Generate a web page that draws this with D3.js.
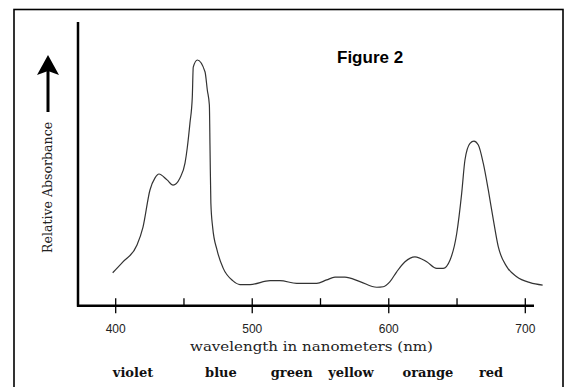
<!DOCTYPE html>
<html>
<head>
    <meta charset="UTF-8">
    <title>Figure 2</title>
    <style>
        body { margin: 0; background: #fff; }
    </style>
</head>
<body>
<div id="chart"></div>
<script src="https://cdn.jsdelivr.net/npm/d3@7"></script>
<script>
    // wavelength (nm) and relative absorbance
    var wavelength = [397.8, 405.3, 415.6, 420.0, 425.1, 428.8, 431.7, 437.6, 442.0, 447.1,
        450.8, 452.4, 454.4, 456.1, 456.8, 459.8, 465.4, 467.1, 468.6, 469.1,
        469.7, 471.0, 474.2, 478.6, 485.9, 491.0, 498.4, 513.1, 520.3, 532.6,
        547.2, 554.5, 560.6, 567.9, 578.9, 591.2, 596.0, 600.9, 605.8, 611.9,
        619.2, 627.8, 635.1, 639.9, 644.9, 649.8, 653.4, 655.8, 659.5, 662.4,
        665.6, 669.2, 672.9, 676.6, 680.2, 686.4, 693.7, 703.5, 712.7];
    var absorbance = [0.134, 0.178, 0.247, 0.320, 0.471, 0.520, 0.536, 0.512, 0.491, 0.520,
        0.581, 0.642, 0.744, 0.849, 0.971, 1.000, 0.952, 0.878, 0.817, 0.634,
        0.418, 0.320, 0.227, 0.154, 0.101, 0.086, 0.086, 0.102, 0.102, 0.091,
        0.091, 0.105, 0.116, 0.116, 0.098, 0.075, 0.077, 0.098, 0.138, 0.179,
        0.199, 0.179, 0.152, 0.152, 0.186, 0.295, 0.457, 0.593, 0.661, 0.670,
        0.654, 0.580, 0.471, 0.349, 0.240, 0.159, 0.118, 0.094, 0.084];

    var majorTicks = [400, 500, 600, 700];
    var minorTicks = [450, 550, 650];

    var colorNames = ["violet", "blue", "green", "yellow", "orange", "red"];
    var colorCenters = [412.7, 477.1, 528.9, 572.3, 628.7, 674.9];

    var width = 569, height = 387;
    var svg = d3.select("#chart").append("svg")
        .attr("width", width)
        .attr("height", height);

    // outer frame
    svg.append("rect")
        .attr("x", 14).attr("y", 9.5)
        .attr("width", 549).attr("height", 400)
        .attr("fill", "none")
        .attr("stroke", "#000")
        .attr("stroke-width", 1.6);

    var x = d3.scaleLinear().domain([400, 700]).range([115.7, 525.3]);
    var y = d3.scaleLinear().domain([0, 1]).range([305.7, 60]);
    var x0 = 78, x1 = 534, yTop = 22;

    // axes lines
    svg.append("line")
        .attr("x1", x0).attr("x2", x0)
        .attr("y1", yTop).attr("y2", y(0) + 1)
        .attr("stroke", "#000").attr("stroke-width", 2.5);
    svg.append("line")
        .attr("x1", x0 - 1).attr("x2", x1)
        .attr("y1", y(0)).attr("y2", y(0))
        .attr("stroke", "#000").attr("stroke-width", 2.5);

    // ticks
    svg.selectAll(".major")
        .data(majorTicks)
        .join("line")
        .attr("class", "major")
        .attr("x1", function (d) { return x(d); })
        .attr("x2", function (d) { return x(d); })
        .attr("y1", y(0) - 7.5).attr("y2", y(0) + 7.5)
        .attr("stroke", "#000").attr("stroke-width", 1.3);
    svg.selectAll(".minor")
        .data(minorTicks)
        .join("line")
        .attr("class", "minor")
        .attr("x1", function (d) { return x(d); })
        .attr("x2", function (d) { return x(d); })
        .attr("y1", y(0) - 7.5).attr("y2", y(0))
        .attr("stroke", "#000").attr("stroke-width", 1.3);

    svg.selectAll(".ticklabel")
        .data(majorTicks)
        .join("text")
        .attr("class", "ticklabel")
        .attr("x", function (d) { return x(d); })
        .attr("y", 333)
        .attr("text-anchor", "middle")
        .attr("font-family", "Liberation Sans, Arial, sans-serif")
        .attr("font-size", 12)
        .attr("fill", "#222")
        .text(function (d) { return d; });

    // curve
    var pts = wavelength.map(function (w, i) { return [w, absorbance[i]]; });
    var line = d3.line()
        .x(function (d) { return x(d[0]); })
        .y(function (d) { return y(d[1]); })
        .curve(d3.curveMonotoneX);
    svg.append("path")
        .datum(pts)
        .attr("d", line)
        .attr("fill", "none")
        .attr("stroke", "#333")
        .attr("stroke-width", 1.2);

    // axis titles
    svg.append("text")
        .attr("x", 311.5).attr("y", 350.5)
        .attr("text-anchor", "middle")
        .attr("font-family", "DejaVu Serif, serif")
        .attr("font-size", 13)
        .attr("textLength", 243)
        .attr("lengthAdjust", "spacingAndGlyphs")
        .attr("fill", "#222")
        .text("wavelength in nanometers (nm)");

    svg.append("text")
        .attr("transform", "translate(52,187.4) rotate(-90)")
        .attr("text-anchor", "middle")
        .attr("font-family", "DejaVu Serif, serif")
        .attr("font-size", 13)
        .attr("textLength", 131)
        .attr("lengthAdjust", "spacingAndGlyphs")
        .attr("fill", "#222")
        .text("Relative Absorbance");

    // arrow up
    svg.append("line")
        .attr("x1", 48).attr("x2", 48)
        .attr("y1", 112).attr("y2", 70)
        .attr("stroke", "#000").attr("stroke-width", 3);
    svg.append("path")
        .attr("d", "M48,55 L59,75 L48,71 L37,75 Z")
        .attr("fill", "#000");

    // colour names
    svg.selectAll(".cname")
        .data(colorNames)
        .join("text")
        .attr("class", "cname")
        .attr("x", function (d, i) { return x(colorCenters[i]); })
        .attr("y", 377)
        .attr("text-anchor", "middle")
        .attr("font-family", "DejaVu Serif, serif")
        .attr("font-weight", "bold")
        .attr("font-size", 13)
        .attr("fill", "#111")
        .text(function (d) { return d; });

    // title
    svg.append("text")
        .attr("x", 337).attr("y", 63)
        .attr("font-family", "Liberation Sans, Arial, sans-serif")
        .attr("font-weight", "bold")
        .attr("font-size", 17)
        .attr("fill", "#000")
        .text("Figure 2");
</script>
</body>
</html>
